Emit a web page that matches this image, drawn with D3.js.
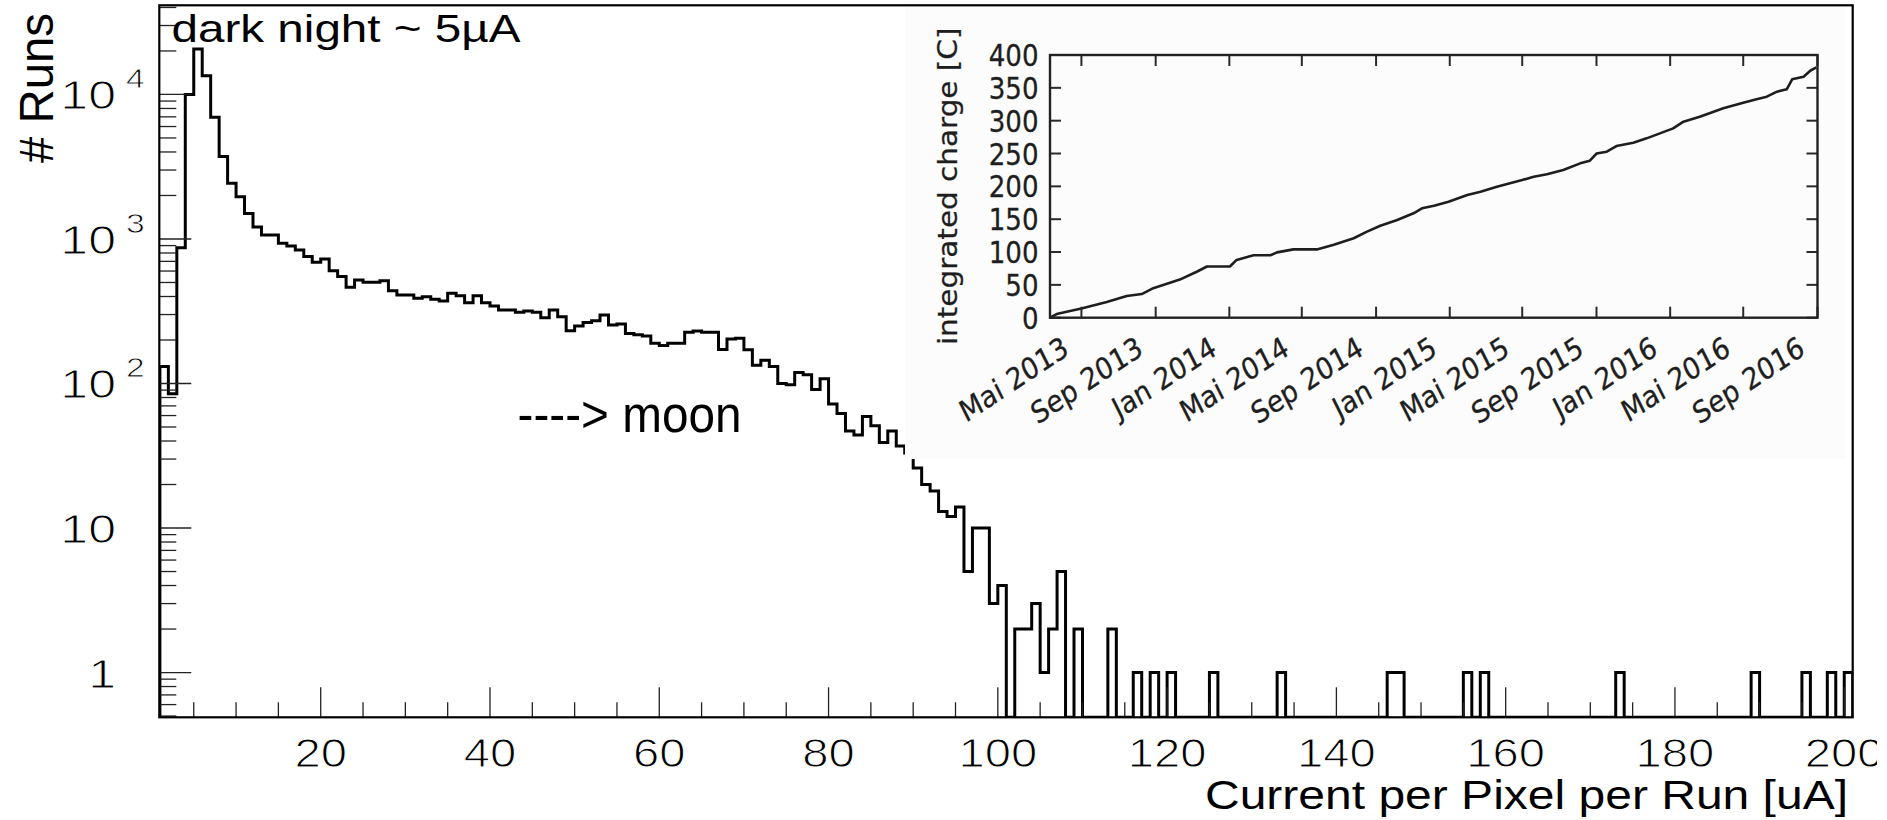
<!doctype html>
<meta charset="utf-8">
<title>Current per Pixel per Run</title>
<script src="https://cdn.jsdelivr.net/npm/d3@7/dist/d3.min.js"></script>
<style>
  html, body { margin: 0; padding: 0; background: #fff; overflow: hidden; }
  svg { display: block; }
</style>

<svg id="chart" width="1877" height="820"></svg>

<script>
  // histogram: number of runs per 1 uA bin, bin k spans [k, k+1]
  const binStart = d3.range(1, 201)
  const runCounts = [
    131, 85, 870, 10000, 20600, 13500, 6950, 3720, 2430, 1960,
    1500, 1210, 1066, 1066, 934, 895, 839, 755, 690, 727,
    604, 549, 463, 520, 502, 502, 514, 438, 410, 410,
    389, 399, 383, 373, 421, 405, 362, 405, 362, 344,
    323, 323, 311, 318, 311, 285, 323, 290, 232, 250,
    264, 272, 298, 254, 258, 222, 217, 213, 190, 183,
    190, 190, 226, 231, 226, 226, 172, 203, 206, 171,
    134, 145, 131, 100, 98, 119, 115, 91, 108, 72,
    62, 47, 44, 59, 51, 39, 47, 37, 33, 26,
    20, 18, 13, 12, 14, 5, 10, 10, 3, 4,
    0, 2, 2, 3, 1, 2, 5, 0, 2, 0,
    0, 0, 2, 0, 0, 1, 0, 1, 0, 1,
    0, 0, 0, 0, 1, 0, 0, 0, 0, 0,
    0, 0, 1, 0, 0, 0, 0, 0, 0, 0,
    0, 0, 0, 0, 0, 1, 1, 0, 0, 0,
    0, 0, 0, 0, 1, 0, 1, 0, 0, 0,
    0, 0, 0, 0, 0, 0, 0, 0, 0, 0,
    0, 0, 1, 0, 0, 0, 0, 0, 0, 0,
    0, 0, 0, 0, 0, 0, 0, 0, 1, 0,
    0, 0, 0, 0, 1, 0, 0, 1, 0, 1,
  ]
  const xMajorTicks = [20, 40, 60, 80, 100, 120, 140, 160, 180, 200]
  const yDecades = [1, 10, 100, 1000, 10000]

  // inset: integrated charge over time
  const chargeDates = [
    '2013-03-10', '2013-03-21', '2013-05-01', '2013-06-12', '2013-07-15',
    '2013-08-09', '2013-08-28', '2013-10-11', '2013-11-08', '2013-11-25',
    '2014-01-02', '2014-01-13', '2014-02-10', '2014-03-10', '2014-03-21',
    '2014-04-17', '2014-05-26', '2014-06-23', '2014-07-26', '2014-08-17',
    '2014-09-08', '2014-10-06', '2014-11-02', '2014-11-16', '2014-12-06',
    '2014-12-30', '2015-01-30', '2015-02-21', '2015-03-20', '2015-05-01',
    '2015-05-20', '2015-06-11', '2015-07-08', '2015-08-05', '2015-08-21',
    '2015-09-01', '2015-09-18', '2015-10-04', '2015-11-01', '2015-11-23',
    '2015-12-15', '2016-01-06', '2016-01-23', '2016-02-19', '2016-03-13',
    '2016-03-29', '2016-05-01', '2016-05-23', '2016-06-09', '2016-06-26',
    '2016-07-12', '2016-07-21', '2016-08-09', '2016-08-20', '2016-08-30',
  ]
  const chargeValues = [
    0, 5.6, 14, 24, 33, 36, 45, 58, 70, 78,
    78, 88, 95, 95, 99.5, 104, 104, 111, 121, 131,
    140, 148.7, 159, 166.5, 170.6, 176.6, 186.8, 191.9, 199.5, 209.6,
    214.7, 218.3, 224.9, 235, 239, 250, 252.8, 261.4, 266.5, 273.1,
    280.7, 288.3, 298.5, 306.1, 313.7, 318.8, 327.4, 332.5, 336.5, 344.2,
    347.7, 363, 367, 376, 381,
  ]
  const chargeTicks = [0, 50, 100, 150, 200, 250, 300, 350, 400]
  const monthNames = ['Jan', 'Feb', 'Mär', 'Apr', 'Mai', 'Jun', 'Jul', 'Aug', 'Sep', 'Okt', 'Nov', 'Dez']

  const svg = d3.select('#chart')
  const mainFont = '"Liberation Sans", Arial, Helvetica, sans-serif'
  const insetFont = '"DejaVu Sans", sans-serif'

  // the main canvas is stretched sideways, so its text is too
  function stretch(sel, k) {
    sel.each(function () {
      const len = this.getComputedTextLength()
      d3.select(this).attr('textLength', len * k).attr('lengthAdjust', 'spacingAndGlyphs')
    })
  }
  // tick labels in the original are drawn with a thin stroke: erode the glyphs a bit
  function thin(sel, w) {
    sel.attr('stroke', '#fff').attr('stroke-width', w).attr('paint-order', 'fill')
  }

  // ---- main histogram ----
  const frame = { left: 159.3, right: 1852.7, top: 5.3, bottom: 717.3 }
  const x = d3.scaleLinear().domain([0.93, 201]).range([frame.left, frame.right])
  const y = d3.scaleLog().domain([0.49, 41400]).range([frame.bottom, frame.top])
  const yMin = y.domain()[0]

  svg.append('clipPath').attr('id', 'plot-clip')
    .append('rect')
    .attr('x', frame.left).attr('y', frame.top)
    .attr('width', frame.right - frame.left).attr('height', frame.bottom - frame.top)

  const steps = [[binStart[0], yMin]]
  binStart.forEach((b, i) => steps.push([b, Math.max(runCounts[i], yMin)]))
  steps.push([binStart[binStart.length - 1] + 1, Math.max(runCounts[runCounts.length - 1], yMin)])
  steps.push([binStart[binStart.length - 1] + 1, yMin])

  const histLine = d3.line()
    .x((d) => x(d[0]))
    .y((d) => y(d[1]))
    .curve(d3.curveStepAfter)

  svg.append('path')
    .attr('clip-path', 'url(#plot-clip)')
    .attr('d', histLine(steps))
    .attr('fill', 'none')
    .attr('stroke', '#000')
    .attr('stroke-width', 3)

  // x ticks
  const xMinor = d3.range(5, 201, 5).filter((v) => !xMajorTicks.includes(v))
  const tickG = svg.append('g').attr('stroke', '#222').attr('stroke-width', 1.3)
  xMinor.forEach((v) => {
    tickG.append('line').attr('x1', x(v)).attr('x2', x(v)).attr('y1', frame.bottom).attr('y2', frame.bottom - 15)
  })
  xMajorTicks.forEach((v) => {
    tickG.append('line').attr('x1', x(v)).attr('x2', x(v)).attr('y1', frame.bottom).attr('y2', frame.bottom - 30)
  })

  // y ticks (log)
  const yMinor = []
  ;[0.1, 1, 10, 100, 1000, 10000].forEach((dec) => {
    for (let m = 2; m <= 9; m++) {
      const v = dec * m
      if (v > yMin && v < y.domain()[1]) yMinor.push(v)
    }
  })
  yMinor.forEach((v) => {
    tickG.append('line').attr('x1', frame.left).attr('x2', frame.left + 17).attr('y1', y(v)).attr('y2', y(v))
  })
  yDecades.forEach((v) => {
    tickG.append('line').attr('x1', frame.left).attr('x2', frame.left + 32).attr('y1', y(v)).attr('y2', y(v))
  })

  // x labels
  svg.append('g').selectAll('text')
    .data(xMajorTicks)
    .join('text')
    .attr('x', (d) => x(d))
    .attr('y', 766.7)
    .attr('text-anchor', 'middle')
    .attr('font-family', mainFont)
    .attr('font-size', 40)
    .attr('fill', '#000')
    .text((d) => d)
    .call(stretch, 1.18)
    .call(thin, 1)

  // y labels: 1, 10, then 10^n
  const yLab = svg.append('g').attr('font-family', mainFont).attr('fill', '#000')
  yDecades.forEach((v) => {
    const exp = Math.round(Math.log10(v))
    yLab.append('text')
      .attr('x', 116)
      .attr('y', y(v) + 15)
      .attr('text-anchor', 'end')
      .attr('font-size', 41)
      .text(exp < 2 ? String(v) : '10')
      .call(stretch, 1.22)
      .call(thin, 1)
    if (exp >= 2) {
      yLab.append('text')
        .attr('x', 126)
        .attr('y', y(v) - 6)
        .attr('font-size', 28)
        .text(exp)
        .call(stretch, 1.2)
        .call(thin, 0.8)
    }
  })

  // frame
  svg.append('rect')
    .attr('x', frame.left).attr('y', frame.top)
    .attr('width', frame.right - frame.left).attr('height', frame.bottom - frame.top)
    .attr('fill', 'none')
    .attr('stroke', '#000')
    .attr('stroke-width', 2.2)

  // axis titles and notes
  svg.append('text')
    .attr('transform', 'translate(53,163) rotate(-90)')
    .attr('font-family', mainFont)
    .attr('font-size', 48)
    .attr('textLength', 150)
    .attr('lengthAdjust', 'spacingAndGlyphs')
    .text('# Runs')

  svg.append('text')
    .attr('x', 1848)
    .attr('y', 808.5)
    .attr('text-anchor', 'end')
    .attr('font-family', mainFont)
    .attr('font-size', 40.5)
    .attr('textLength', 643)
    .attr('lengthAdjust', 'spacingAndGlyphs')
    .text('Current per Pixel per Run [uA]')

  svg.append('text')
    .attr('x', 171.5)
    .attr('y', 41.7)
    .attr('font-family', mainFont)
    .attr('font-size', 39)
    .attr('textLength', 349)
    .attr('lengthAdjust', 'spacingAndGlyphs')
    .text('dark night ~ 5µA')

  svg.append('text')
    .attr('x', 517.5)
    .attr('y', 432.3)
    .attr('font-family', mainFont)
    .attr('font-size', 52)
    .attr('textLength', 224)
    .attr('lengthAdjust', 'spacingAndGlyphs')
    .text('----> moon')

  // ---- inset (pasted figure, squeezed sideways) ----
  const squeeze = 0.87
  const inset = svg.append('g')
  inset.append('rect')
    .attr('x', 905).attr('y', 7)
    .attr('width', 1846 - 905).attr('height', 459 - 7)
    .attr('fill', '#fcfcfc')

  const ib = { left: 1050, right: 1817.5, top: 55, bottom: 317.7 }
  const parseDay = d3.timeParse('%Y-%m-%d')
  const dates = chargeDates.map(parseDay)
  const ix = d3.scaleTime().domain([parseDay('2013-03-10'), parseDay('2016-09-01')]).range([ib.left, ib.right])
  const iy = d3.scaleLinear().domain([0, 400]).range([ib.bottom, ib.top])
  const dateTicks = d3.timeMonth.every(4).range(parseDay('2013-05-01'), parseDay('2016-09-02'))

  inset.append('path')
    .attr('d', d3.line().x((d, i) => ix(dates[i])).y((d) => iy(d))(chargeValues))
    .attr('fill', 'none')
    .attr('stroke', '#1e1e1e')
    .attr('stroke-width', 2.6)
    .attr('stroke-linejoin', 'round')

  const iTicks = inset.append('g').attr('stroke', '#2a2a2a').attr('stroke-width', 2)
  dateTicks.forEach((d) => {
    iTicks.append('line').attr('x1', ix(d)).attr('x2', ix(d)).attr('y1', ib.bottom).attr('y2', ib.bottom - 11)
    iTicks.append('line').attr('x1', ix(d)).attr('x2', ix(d)).attr('y1', ib.top).attr('y2', ib.top + 11)
  })
  chargeTicks.forEach((v) => {
    iTicks.append('line').attr('x1', ib.left).attr('x2', ib.left + 11).attr('y1', iy(v)).attr('y2', iy(v))
    iTicks.append('line').attr('x1', ib.right).attr('x2', ib.right - 11).attr('y1', iy(v)).attr('y2', iy(v))
  })

  inset.append('rect')
    .attr('x', ib.left).attr('y', ib.top)
    .attr('width', ib.right - ib.left).attr('height', ib.bottom - ib.top)
    .attr('fill', 'none')
    .attr('stroke', '#222')
    .attr('stroke-width', 2.4)

  const insetText = inset.append('g')
    .attr('font-family', insetFont)
    .attr('font-size', 30)
    .attr('fill', '#1e1e1e')
    .attr('stroke', '#1e1e1e')
    .attr('stroke-width', 0.3)

  insetText.append('g').selectAll('text')
    .data(chargeTicks)
    .join('text')
    .attr('transform', (d) => `translate(${ib.left - 11.5},${iy(d) + 11}) scale(${squeeze},1)`)
    .attr('text-anchor', 'end')
    .text((d) => d)

  insetText.append('g').selectAll('text')
    .data(dateTicks)
    .join('text')
    .attr('transform', (d) => `translate(${ix(d) - 11},${ib.bottom + 36}) scale(${squeeze},1) rotate(-30)`)
    .attr('text-anchor', 'end')
    .text((d) => `${monthNames[d.getMonth()]} ${d.getFullYear()}`)

  insetText.append('text')
    .attr('transform', `translate(957,${(ib.top + ib.bottom) / 2}) scale(${squeeze},1) rotate(-90)`)
    .attr('text-anchor', 'middle')
    .attr('font-size', 29.5)
    .text('integrated charge [C]')
</script>
